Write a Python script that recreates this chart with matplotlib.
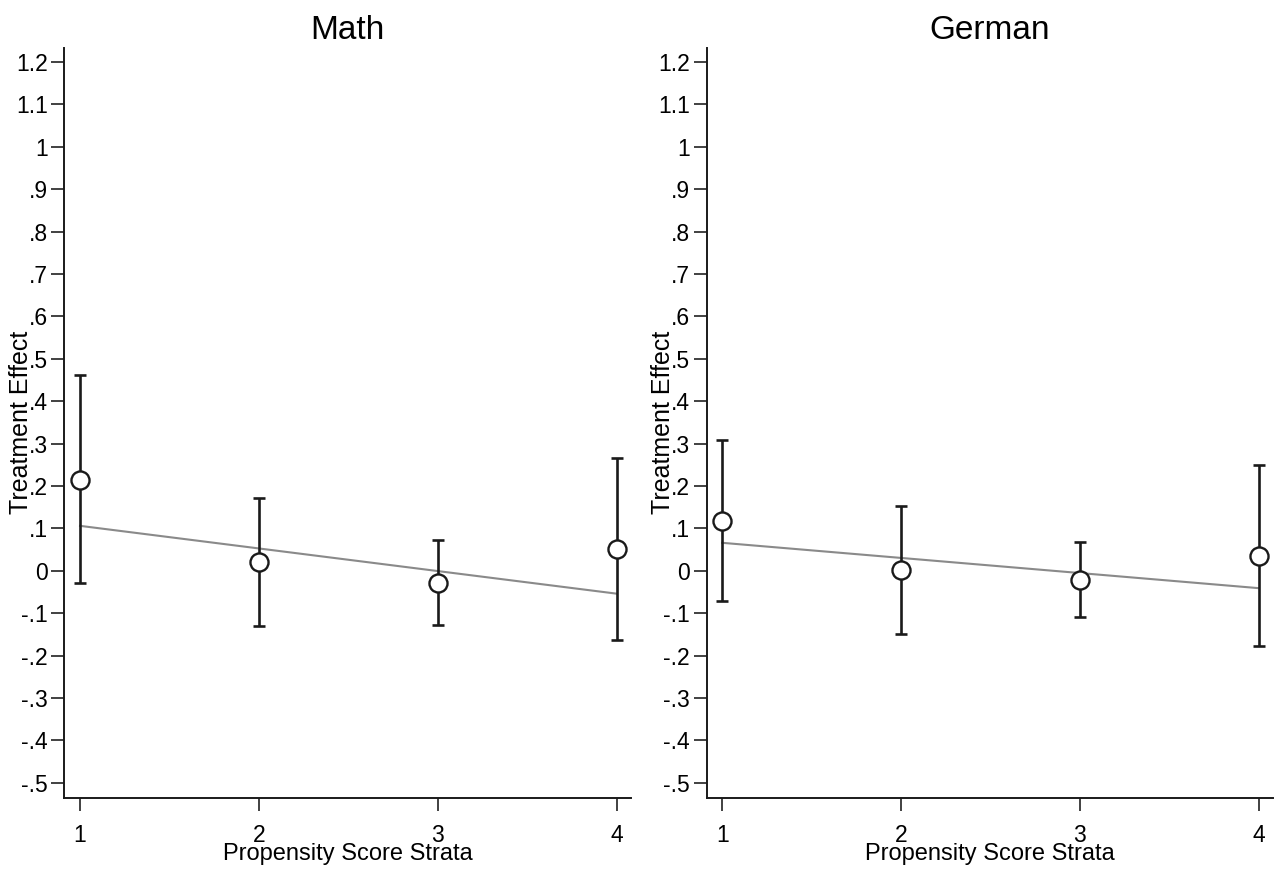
import matplotlib
matplotlib.use("Agg")
import matplotlib.pyplot as plt
from matplotlib.ticker import FuncFormatter

plt.rcParams['font.family'] = ['Liberation Sans', 'DejaVu Sans']

strata = [1, 2, 3, 4]

# Math: point estimates and 95% confidence bounds per stratum
math_est = [0.215, 0.020, -0.028, 0.051]
math_lo = [-0.030, -0.131, -0.127, -0.163]
math_hi = [0.461, 0.172, 0.072, 0.266]
math_fit = [0.106, -0.054]  # fitted trend at strata 1 and 4

# German
german_est = [0.118, 0.002, -0.021, 0.036]
german_lo = [-0.072, -0.148, -0.109, -0.177]
german_hi = [0.309, 0.152, 0.068, 0.250]
german_fit = [0.066, -0.041]

yticks = [round(-0.5 + 0.1 * i, 1) for i in range(18)]


def stata_fmt(v, pos):
    s = ('%.1f' % v).rstrip('0').rstrip('.')
    if s in ('-0', ''):
        s = '0'
    s = s.replace('0.', '.')
    return s


def draw_panel(ax, title, est, lo, hi, fit):
    ax.plot([strata[0], strata[-1]], fit, color='#8a8a8a', lw=1.5, zorder=1)
    yerr = [[e - l for e, l in zip(est, lo)], [h - e for e, h in zip(est, hi)]]
    ax.errorbar(strata, est, yerr=yerr, fmt='none', ecolor='#1a1a1a',
                elinewidth=1.9, capsize=4.5, capthick=1.9, zorder=2)
    ax.plot(strata, est, 'o', ms=13, mfc='white', mec='#1a1a1a', mew=1.7, zorder=3)

    ax.set_xlim(0.913, 4.08)
    ax.set_ylim(-0.536, 1.234)
    ax.set_xticks(strata)
    ax.set_yticks(yticks)
    ax.yaxis.set_major_formatter(FuncFormatter(stata_fmt))
    ax.tick_params(axis='both', labelsize=16.5, length=9.5, width=1.3,
                   color='#333333')
    ax.tick_params(axis='y', pad=2.5)
    ax.tick_params(axis='x', pad=9)
    for side in ('top', 'right'):
        ax.spines[side].set_visible(False)
    for side in ('left', 'bottom'):
        ax.spines[side].set_linewidth(1.4)
        ax.spines[side].set_color('#1a1a1a')

    ax.set_title(title, fontsize=24, pad=6)
    ax.set_xlabel('Propensity Score Strata', fontsize=17, labelpad=-3)
    ax.set_ylabel('Treatment Effect', fontsize=18)
    ax.yaxis.set_label_coords(-0.0555, 0.5)


fig = plt.figure(figsize=(12.77, 8.71), dpi=100)
ax1 = fig.add_axes([0.0505, 0.0838, 0.4436, 0.8615])
ax2 = fig.add_axes([0.5533, 0.0838, 0.4436, 0.8615])

draw_panel(ax1, 'Math', math_est, math_lo, math_hi, math_fit)
draw_panel(ax2, 'German', german_est, german_lo, german_hi, german_fit)

fig.savefig('out.png', dpi=100, facecolor='white')
